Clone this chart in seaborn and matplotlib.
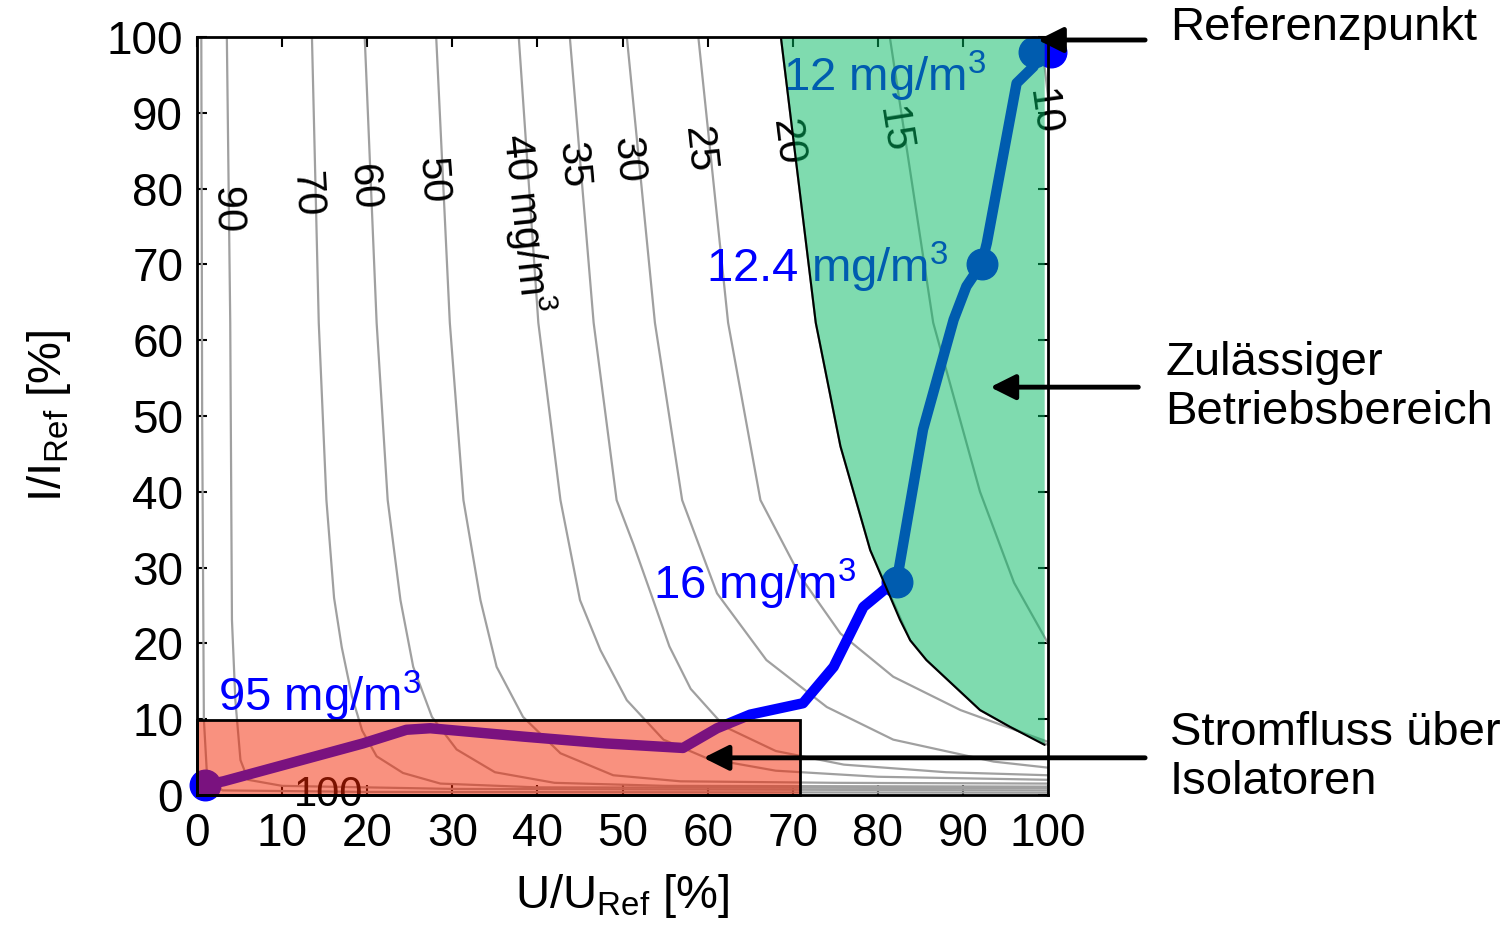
import numpy as np
import pandas as pd
import matplotlib
matplotlib.use("Agg")
import matplotlib.pyplot as plt
import seaborn as sns
from matplotlib.patches import Rectangle, Polygon

# --- data (U/U_Ref [%], I/I_Ref [%]) ---
levels = [100, 90, 70, 60, 50, 40, 35, 30, 25, 20, 15, 10]
curve_u = {
    100: [0.5, 0.6, 0.8, 1.2, 3, 20, 100],
    90: [3.5, 3.9, 4.1, 4.5, 5.1, 6.0, 10, 30, 100],
    70: [13.5, 14.3, 15.2, 16.1, 17.0, 18.2, 19.4, 21.1, 24.2, 28.6, 40, 100],
    60: [19.7, 21.1, 22.4, 23.9, 25.4, 27.6, 30.5, 35, 42, 55, 100],
    50: [28.1, 29.7, 31.3, 33.3, 35.2, 38.3, 42.7, 48.9, 56.8, 75, 100],
    40: [37.8, 40.1, 42.7, 45.0, 47.4, 50.5, 54.8, 60, 68, 80, 100],
    35: [43.8, 46.6, 49.3, 51.3, 53.6, 55.5, 58, 62, 68, 76, 88, 100],
    30: [50.5, 53.8, 57.0, 61.1, 66.9, 74.0, 81.8, 93.6, 100],
    25: [58.9, 62.4, 66.2, 70.9, 75.6, 81.8, 89.7, 100],
    20: [68.6, 72.7, 75.6, 79.1, 83.8, 85.7, 92.0, 95.5, 100],
    15: [81.4, 86.5, 92.0, 96.0, 100],
    10: [99.2, 100],
}
curve_i = {
    100: [100, 50, 10, 2, 0.6, 0.4, 0.3],
    90: [100, 62.3, 23.1, 12.5, 4.6, 2.0, 1.2, 0.8, 0.6],
    70: [100, 62.3, 38.9, 26.0, 19.5, 13.0, 8.5, 5.1, 2.9, 1.5, 1.0, 0.9],
    60: [100, 62.3, 38.9, 25.7, 16.9, 10.3, 6.0, 3.0, 1.6, 1.2, 1.1],
    50: [100, 62.3, 38.9, 25.7, 16.9, 10.3, 5.5, 2.6, 1.8, 1.6, 1.5],
    40: [100, 62.3, 38.9, 25.7, 19.1, 12.5, 7.3, 4.8, 3.2, 2.4, 2.0],
    35: [100, 62.3, 38.9, 33.0, 25.7, 19.6, 14.0, 9.0, 5.8, 4.0, 3.0, 2.6],
    30: [100, 62.3, 38.9, 26.6, 17.8, 11.6, 7.3, 4.4, 3.6],
    25: [100, 62.3, 38.9, 28.8, 21.3, 15.6, 11.2, 7.0],
    20: [100, 62.3, 46.0, 32.3, 20.4, 17.8, 11.2, 9.0, 6.6],
    15: [100, 62.3, 40.0, 28.0, 20.0],
    10: [100, 92],
}

# measured operating path
path_u = [0.9, 3.1, 19.5, 24.6, 27.4, 38.3, 48.0, 57.1, 61.1, 65.0, 71.2, 74.8,
          78.3, 81.0, 82.2, 85.3, 88.9, 90.4, 92.2, 92.8, 96.3, 98.3, 98.3]
path_i = [1.3, 1.8, 6.8, 8.6, 8.8, 7.7, 6.8, 6.2, 8.8, 10.6, 12.1, 16.9,
          24.8, 27.3, 28.1, 48.2, 62.7, 67.1, 70.1, 72.8, 93.9, 96.1, 98.0]
marker_u = [0.9, 82.2, 92.2, 98.3, 100.4]
marker_i = [1.3, 28.1, 70.1, 98.0, 98.0]

# permitted region boundary (green) and insulator region (red)
zone_u = [68.6, 72.7, 75.6, 79.1, 82.6, 83.8, 85.7, 92.0, 95.5, 99.6, 99.6]
zone_i = [100, 62.3, 46.0, 32.3, 23.1, 20.4, 17.8, 11.2, 9.0, 6.6, 100]
iso_u_max = 70.9
iso_i_max = 9.9

# contour labels: text, U, I, rotation
lab_text = ['90', '70', '60', '50', '40 mg/m$^3$', '35', '30', '25', '20', '15', '10']
lab_u = [3.5, 12.8, 19.5, 27.6, 38.6, 44.1, 50.6, 58.9, 69.3, 81.8, 99.4]
lab_i = [77.2, 79.2, 80.1, 81.1, 75.5, 83.1, 83.8, 85.1, 86.1, 87.7, 90.1]
lab_rot = [-89, -87, -86, -86, -84, -85, -85, -84, -83, -81, -82]

# concentration annotations along the path
conc_text = ['95 mg/m$^3$', '16 mg/m$^3$', '12.4 mg/m$^3$', '12 mg/m$^3$']
conc_u = [2.5, 53.6, 59.8, 68.9]
conc_i = [11.0, 25.8, 67.6, 92.8]

sns.set_style("ticks")
plt.rcParams['font.family'] = ['Liberation Sans', 'DejaVu Sans']
plt.rcParams['mathtext.fontset'] = 'custom'
plt.rcParams['mathtext.rm'] = 'Liberation Sans'
plt.rcParams['mathtext.it'] = 'Liberation Sans:italic'
plt.rcParams['mathtext.default'] = 'regular'
for key in ['text.color', 'axes.labelcolor', 'xtick.color', 'ytick.color']:
    plt.rcParams[key] = 'black'

fig = plt.figure(figsize=(15.1, 9.38), dpi=100)
ax = fig.add_axes([0.1305, 0.1525, 0.5636, 0.8081])

rows = []
for lv in levels:
    for u, i in zip(curve_u[lv], curve_i[lv]):
        rows.append({'U': u, 'I': i, 'level': lv})
contours = pd.DataFrame(rows)
sns.lineplot(data=contours, x='U', y='I', units='level', estimator=None, sort=False,
             color='#a0a0a0', lw=1.6, ax=ax, zorder=1)

for t, u, i, r in zip(lab_text, lab_u, lab_i, lab_rot):
    ax.text(u, i, t, rotation=r, ha='center', va='center', fontsize=30,
            color='black', zorder=2, clip_on=False)
ax.text(15.4, 0.0, '100', ha='center', va='center', fontsize=30, color='black',
        zorder=2, clip_on=False)

path = pd.DataFrame({'U': path_u, 'I': path_i})
sns.lineplot(data=path, x='U', y='I', sort=False, estimator=None, color='#0000ff',
             lw=7.5, ax=ax, zorder=3)
ax.plot(marker_u, marker_i, 'o', color='#0000ff', ms=22, zorder=3, clip_on=False)

for t, u, i in zip(conc_text, conc_u, conc_i):
    ax.text(u, i, t, color='#0000ff', fontsize=34, ha='left', va='baseline', zorder=3)

ax.add_patch(Polygon(list(zip(zone_u, zone_i)), closed=True, facecolor=(0, 0.72, 0.38),
                     alpha=0.5, edgecolor='none', zorder=4))
ax.plot(zone_u[:-1], zone_i[:-1], color='black', lw=1.5, zorder=4)
ax.add_patch(Rectangle((0, 0), iso_u_max, iso_i_max, facecolor=(0.96, 0.14, 0.0),
                       alpha=0.5, edgecolor='none', zorder=4, clip_on=False))
ax.add_patch(Rectangle((0, 0), iso_u_max, iso_i_max, facecolor='none',
                       edgecolor='black', lw=2, zorder=4, clip_on=False))

ax.set_xlim(0, 100)
ax.set_ylim(0, 100)
ax.set_xticks(np.arange(0, 101, 10))
ax.set_yticks(np.arange(0, 101, 10))
ax.tick_params(direction='in', top=True, right=True, length=7, width=1.5,
               labelsize=33, color='black')
ax.tick_params(axis='x', pad=12)
ax.tick_params(axis='y', pad=10)
for s in ax.spines.values():
    s.set_linewidth(2)
    s.set_color('black')
    s.set_zorder(6)
ax.set_xlabel('U/U$_{Ref}$ [%]', fontsize=34, labelpad=12)
ax.set_ylabel('I/I$_{Ref}$ [%]', fontsize=34, labelpad=24)

# annotations outside the axes
arrow = dict(arrowstyle='-|>', lw=3.5, color='black', mutation_scale=38, shrinkA=0, shrinkB=0)
ax.annotate('', xy=(98.8, 99.6), xytext=(111.4, 99.6), arrowprops=arrow,
            annotation_clip=False, zorder=7)
ax.annotate('', xy=(93.2, 53.8), xytext=(110.6, 53.8), arrowprops=arrow,
            annotation_clip=False, zorder=7)
ax.annotate('', xy=(59.5, 4.9), xytext=(111.4, 4.9), arrowprops=arrow,
            annotation_clip=False, zorder=7)
ax.text(114.3, 101.2, 'Referenzpunkt', fontsize=34, ha='left', va='center', clip_on=False)
ax.text(113.8, 53.8, 'Zulässiger\nBetriebsbereich', fontsize=34, ha='left', va='center',
        linespacing=1.15, clip_on=False)
ax.text(114.3, 4.9, 'Stromfluss über\nIsolatoren', fontsize=34, ha='left', va='center',
        linespacing=1.15, clip_on=False)

fig.savefig('out.png', dpi=100)
